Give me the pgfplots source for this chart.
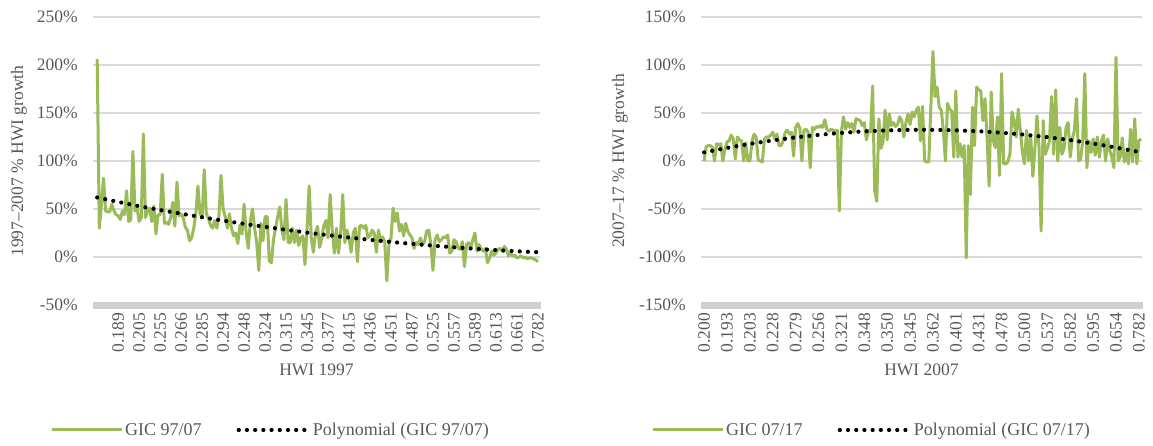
\documentclass[border=0pt]{standalone}
\usepackage{pgfplots}
\pgfplotsset{compat=1.18}
\usepackage{pgfplotstable}
\usepackage{fontspec}
\setmainfont{Liberation Serif}
\definecolor{gridc}{HTML}{D9D9D9}
\definecolor{bandc}{HTML}{D0D0D0}
\definecolor{txt}{HTML}{595959}
\definecolor{grn}{HTML}{9BBB59}

\pgfplotstableread{
v
206
30
55
82
48
47
47
55
48
44
43
39
48
44
69
37
39
110
48
51
37
41
128
41
48
51
37
53
24
44
44
86
35
36
34
41
57
32
78
43
45
41
31
28
17
20
30
45
74
45
41
91
45
40
33
30
38
30
42
85
50
42
30
45
30
22
25
14
33
24
55
25
9
38
50
30
15
-14
35
17
42
42
-4
-6
18
30
42
52
28
18
60
15
15
30
15
28
12
20
22
-8
30
74
20
5
25
32
10
20
33
38
20
65
28
4
30
4
25
65
15
28
20
5
25
30
-5
32
33
30
33
20
22
28
25
5
28
18
21
16
-25
13
20
51
37
46
27
34
22
35
27
23
20
9
15
13
20
13
16
27
28
13
-14
18
23
16
18
21
20
23
4
6
18
16
9
8
16
-10
13
15
9
18
25
6
13
8
6
9
-6
-1
6
2
4
8
9
6
11
8
1
4
1
2
-1
0
1
-1
0
-2
-1
-1
-2
-3
-5
}\leftdata

\pgfplotstableread{
v
0
15
16
16
14
0
18
17
18
0
12
20
21
27
23
2
25
22
21
0
19
0
0
20
28
25
1
0
-1
23
25
25
27
30
23
28
16
16
21
30
32
28
30
5
35
39
34
0
32
33
30
-7
35
33
36
35
37
35
43
33
31
33
32
31
32
-52
31
46
33
40
35
39
30
44
43
42
37
40
22
32
30
78
-31
-42
44
13
20
53
22
49
37
40
36
38
46
42
25
40
49
38
51
46
53
56
21
57
0
-1
-1
56
114
67
77
56
53
32
0
60
54
52
4
73
4
18
4
16
-101
16
-35
56
16
77
74
73
42
65
25
-26
72
21
14
46
-15
91
-3
-3
-1
7
51
42
25
54
32
9
-3
32
0
25
-16
13
47
14
-73
42
7
13
21
67
7
74
0
35
7
13
35
40
4
23
32
65
0
2
21
91
-7
21
9
23
6
25
4
21
27
0
23
11
4
-7
108
0
4
24
-1
9
-3
33
-1
44
-3
21
23
}\rightdata

\pgfplotsset{
  mystyle/.style={
    scale only axis,
    height=288pt,
    anchor=south west,
    font=\fontsize{17.5}{21}\selectfont,
    tick label style={font=\fontsize{17.5}{21}\selectfont, text=txt},
    label style={font=\fontsize{17.5}{21}\selectfont, text=txt},
    axis x line*=bottom,
    axis y line*=left,
    axis line style={draw=none},
    ymajorgrids,
    grid style={draw=gridc, line width=1.5pt},
    major tick length=0pt,
    tick style={draw=none},
    xticklabel style={rotate=90, anchor=east, inner sep=0pt},
    xticklabel shift=8pt,
    yticklabel style={anchor=east, inner sep=0pt},
    yticklabel shift=15pt,
    legend style={draw=none, fill=none, legend columns=2, text=txt,
      font=\fontsize{18}{21}\selectfont, anchor=west,
      /tikz/every even column/.append style={column sep=33pt}},
    legend image code/.code={\draw[##1] (0pt,0pt) -- (70pt,0pt);},
    clip=false,
  },
  trend/.style={black, line width=4.2pt, line cap=round, dash pattern=on 0pt off 8.2pt, smooth},
  series/.style={grn, line width=3pt, line join=round},
}

\begin{document}
\begin{tikzpicture}
\path[use as bounding box] (0,0) rectangle (1153pt,446pt);
% Left chart
\begin{axis}[mystyle,
  at={(93pt,141pt)},
  width=447pt,
  xmin=-1, xmax=212,
  ymin=-50, ymax=250,
  ytick={-50,0,50,100,150,200,250},
  yticklabels={-50\%,0\%,50\%,100\%,150\%,200\%,250\%},
  xtick={11,21,...,211},
  xticklabels={0.189,0.205,0.255,0.266,0.285,0.294,0.248,0.324,0.315,0.345,0.377,0.415,0.436,0.451,0.487,0.525,0.557,0.589,0.613,0.661,0.782},
  xlabel={HWI 1997},
  xlabel style={at={(axis description cs:0.5,-0.226)}, anchor=center},
  ylabel={1997--2007 \% HWI growth},
  ylabel style={at={(axis description cs:-0.1655,0.5)}, anchor=center},
  legend style={at={(axis description cs:-0.103,-0.434)}},
]
\addplot[draw=bandc, line width=0.5pt, fill=bandc, forget plot] coordinates {(-1,-53) (212,-53) (212,-47) (-1,-47)} -- cycle;
\addplot[series] table[x expr=\coordindex+1, y=v] {\leftdata};
\addlegendentry{GIC 97/07}
\addplot[trend] coordinates {(1,62) (20,53.4) (40,45.5) (60,38.2) (80,31.7) (100,25.7) (120,20.5) (140,15.9) (160,12.0) (180,8.7) (200,6.1) (211,5.0)};
\addlegendentry{Polynomial (GIC 97/07)}
\end{axis}
% Right chart
\begin{axis}[mystyle,
  at={(701pt,141pt)},
  width=441pt,
  xmin=-1.5, xmax=210.5,
  ymin=-150, ymax=150,
  ytick={-150,-100,-50,0,50,100,150},
  yticklabels={-150\%,-100\%,-50\%,0\%,50\%,100\%,150\%},
  xtick={0,11,...,209},
  xticklabels={0.200,0.193,0.203,0.228,0.279,0.256,0.321,0.348,0.350,0.345,0.362,0.401,0.431,0.478,0.500,0.537,0.582,0.595,0.654,0.782},
  xlabel={HWI 2007},
  xlabel style={at={(axis description cs:0.5,-0.226)}, anchor=center},
  ylabel={2007--17 \% HWI growth},
  ylabel style={at={(axis description cs:-0.1837,0.5)}, anchor=center},
  legend style={at={(axis description cs:-0.1201,-0.434)}},
]
\addplot[draw=bandc, line width=0.5pt, fill=bandc, forget plot] coordinates {(-1.5,-153) (210.5,-153) (210.5,-147) (-1.5,-147)} -- cycle;
\addplot[series] table[x expr=\coordindex, y=v] {\rightdata};
\addlegendentry{GIC 07/17}
\addplot[trend] coordinates {(0,9.0) (15,15.2) (30,20.5) (45,24.8) (60,28.2) (75,30.6) (90,32.0) (105,32.5) (120,32.0) (135,30.6) (150,28.2) (165,24.8) (180,20.5) (195,15.2) (210,9.0)};
\addlegendentry{Polynomial (GIC 07/17)}
\end{axis}
\end{tikzpicture}
\end{document}
